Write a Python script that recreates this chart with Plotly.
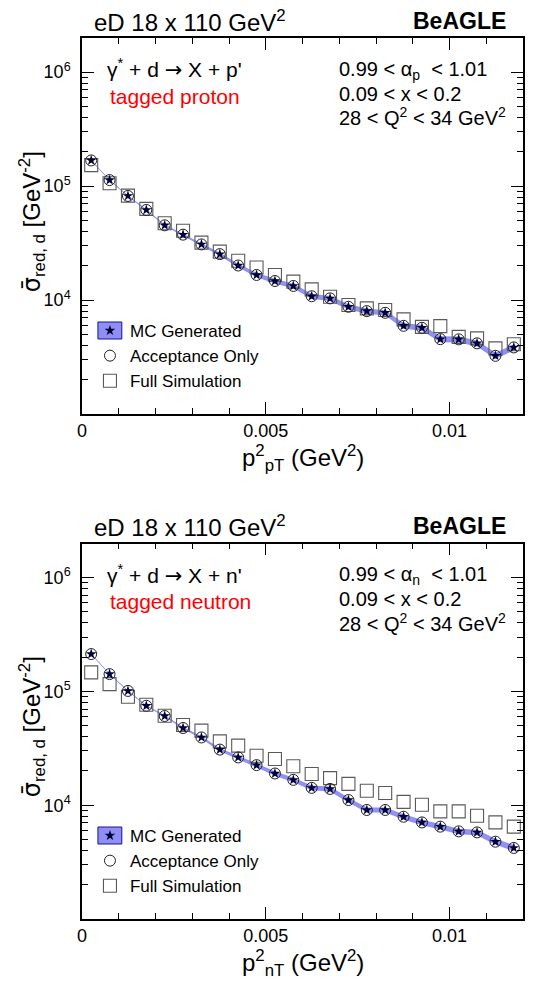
import plotly.graph_objects as go

# ---------------- data ----------------
pt2_bins = [0.00025, 0.00075, 0.00125, 0.00175, 0.00225, 0.00275, 0.00325, 0.00375,
            0.00425, 0.00475, 0.00525, 0.00575, 0.00625, 0.00675, 0.00725, 0.00775,
            0.00825, 0.00875, 0.00925, 0.00975, 0.01025, 0.01075, 0.01125, 0.01175]

proton_mc = [1.68e5, 1.13e5, 8.2e4, 6.18e4, 4.53e4, 3.75e4, 3.08e4, 2.53e4,
             2.01e4, 1.66e4, 1.47e4, 1.33e4, 1.08e4, 1.035e4, 8.73e3, 8.0e3,
             7.73e3, 5.94e3, 5.71e3, 4.54e3, 4.52e3, 4.17e3, 3.24e3, 3.84e3]
proton_mc_relerr = [0.004, 0.006, 0.009, 0.012, 0.016, 0.020, 0.025, 0.030,
                    0.035, 0.045, 0.047, 0.048, 0.050, 0.050, 0.052, 0.054,
                    0.055, 0.057, 0.058, 0.060, 0.060, 0.061, 0.064, 0.062]
proton_acc = [1.68e5, 1.13e5, 8.2e4, 6.18e4, 4.53e4, 3.75e4, 3.08e4, 2.53e4,
              2.01e4, 1.66e4, 1.47e4, 1.33e4, 1.08e4, 1.035e4, 8.73e3, 8.0e3,
              7.73e3, 5.94e3, 5.71e3, 4.54e3, 4.52e3, 4.17e3, 3.24e3, 3.84e3]
proton_full = [1.53e5, 1.06e5, 8.26e4, 6.31e4, 4.72e4, 4.06e4, 3.19e4, 2.66e4,
               2.21e4, 1.93e4, 1.66e4, 1.45e4, 1.24e4, 1.07e4, 9.04e3, 8.45e3,
               8.17e3, 6.77e3, 5.82e3, 5.91e3, 4.75e3, 4.61e3, 3.77e3, 4.10e3]

neutron_mc = [2.13e5, 1.42e5, 1.01e5, 7.48e4, 6.08e4, 4.77e4, 3.94e4, 3.08e4,
              2.63e4, 2.25e4, 1.90e4, 1.67e4, 1.42e4, 1.39e4, 1.11e4, 9.08e3,
              9.08e3, 7.92e3, 7.06e3, 6.48e3, 5.89e3, 5.77e3, 4.78e3, 4.21e3]
neutron_mc_relerr = [0.003, 0.005, 0.008, 0.011, 0.015, 0.019, 0.024, 0.030,
                     0.035, 0.040, 0.044, 0.046, 0.048, 0.049, 0.050, 0.052,
                     0.052, 0.054, 0.055, 0.056, 0.057, 0.057, 0.060, 0.062]
neutron_acc = [2.13e5, 1.42e5, 1.01e5, 7.48e4, 6.08e4, 4.77e4, 3.94e4, 3.08e4,
               2.63e4, 2.25e4, 1.90e4, 1.67e4, 1.42e4, 1.39e4, 1.11e4, 9.08e3,
               9.08e3, 7.92e3, 7.06e3, 6.48e3, 5.89e3, 5.77e3, 4.78e3, 4.21e3]
neutron_full = [1.47e5, 1.16e5, 8.98e4, 7.64e4, 6.11e4, 5.07e4, 4.52e4, 3.64e4,
                3.34e4, 2.72e4, 2.55e4, 2.20e4, 1.88e4, 1.73e4, 1.54e4, 1.34e4,
                1.28e4, 1.07e4, 1.01e4, 8.83e3, 8.83e3, 8.09e3, 7.06e3, 6.48e3]

x_tick_vals = [0, 0.005, 0.01]
x_tick_text = ["0", "0.005", "0.01"]
y_tick_vals = [1e4, 1e5, 1e6]
y_tick_text = ["10<sup>4</sup>", "10<sup>5</sup>", "10<sup>6</sup>"]
y_minor_vals = [m * 10 ** e for e in (3, 4, 5) for m in range(2, 10)] + [2e6]

series_names = ["MC Generated", "Acceptance Only", "Full Simulation"]

panels = [
    dict(mc=proton_mc, err=proton_mc_relerr, acc=proton_acc, full=proton_full,
         particle="p", tag="tagged proton", dy=0),
    dict(mc=neutron_mc, err=neutron_mc_relerr, acc=neutron_acc, full=neutron_full,
         particle="n", tag="tagged neutron", dy=505),
]

# ---------------- layout geometry ----------------
W, H = 534, 989
ML, MR, MT, MB = 82, 9, 38, 70
PW = W - ML - MR
PH = H - MT - MB
FONT = "Liberation Sans, Arial, Helvetica, sans-serif"
ARROW = '<span style="font-family:DejaVu Sans">\u2192</span>'
SIGMA_BAR = '<span style="font-family:DejaVu Sans">\u03c3\u0304</span>'


def px(X):
    return (X - ML) / PW


def py(Y):
    return (H - MB - Y) / PH


BAND_FILL = "rgba(122,122,242,0.85)"
BAND_LINE = "rgb(150,150,250)"
BOX_EDGE = "rgb(20,20,150)"

fig = go.Figure()
annotations = []
shapes = []

for i, p in enumerate(panels):
    sfx = "" if i == 0 else str(i + 1)
    xa, ya = "x" + sfx, "y" + sfx
    leg = "legend" + sfx
    lo = [v * (1 - e) for v, e in zip(p["mc"], p["err"])]
    hi = [v * (1 + e) for v, e in zip(p["mc"], p["err"])]
    fig.add_trace(go.Scatter(x=pt2_bins, y=lo, mode="lines", line=dict(width=0, color=BAND_FILL),
                             showlegend=False, hoverinfo="skip", legend=leg, xaxis=xa, yaxis=ya))
    fig.add_trace(go.Scatter(x=pt2_bins, y=hi, mode="lines", line=dict(width=0, color=BAND_FILL),
                             fill="tonexty", fillcolor=BAND_FILL, legend=leg,
                             showlegend=False, hoverinfo="skip", xaxis=xa, yaxis=ya))
    fig.add_trace(go.Scatter(x=pt2_bins, y=p["mc"], mode="lines", line=dict(width=1, color=BAND_LINE),
                             showlegend=False, hoverinfo="skip", legend=leg, xaxis=xa, yaxis=ya))
    fig.add_trace(go.Scatter(x=pt2_bins, y=p["full"], mode="markers", name=series_names[2],
                             marker=dict(symbol="square-open", size=13, color="#5a5a5a",
                                         line=dict(width=1.1, color="#5a5a5a")),
                             legend=leg, legendrank=3, xaxis=xa, yaxis=ya))
    fig.add_trace(go.Scatter(x=pt2_bins, y=p["acc"], mode="markers", name=series_names[1],
                             marker=dict(symbol="circle-open", size=11, color="#222222",
                                         line=dict(width=1, color="#222222")),
                             legend=leg, legendrank=2, xaxis=xa, yaxis=ya))
    fig.add_trace(go.Scatter(x=pt2_bins, y=p["mc"], mode="markers", name=series_names[0],
                             marker=dict(symbol="star", size=8, color="#000035",
                                         line=dict(width=0)),
                             legend=leg, legendrank=1, xaxis=xa, yaxis=ya))

    dy = p["dy"]

    def ann(text, X, Y, size, xanchor="left", color="black", angle=0):
        annotations.append(dict(text=text, x=px(X), y=py(Y + dy), xref="paper", yref="paper",
                                xanchor=xanchor, yanchor="middle", showarrow=False,
                                textangle=angle,
                                font=dict(family=FONT, size=size, color=color)))

    ann("eD 18 x 110 GeV<sup>2</sup>", 92, 21, 24)
    ann("<b>BeAGLE</b>", 510, 21, 23, xanchor="right")
    ann("γ<sup>*</sup> + d %s X + %s'" % (ARROW, p["particle"]), 105, 69, 21)
    ann(p["tag"], 108, 96, 21, color="#ff0000")
    ann("0.99 &lt; α<sub>%s</sub>\u00a0 &lt; 1.01" % p["particle"], 338, 70, 20)
    ann("0.09 &lt; x &lt; 0.2", 338, 94, 20)
    ann("28 &lt; Q<sup>2</sup> &lt; 34 GeV<sup>2</sup>", 338, 117, 20)
    ann("%s<sub>red, d</sub> [GeV<sup>-2</sup>]" % SIGMA_BAR, 32, 222, 24, xanchor="center", angle=-90)
    ann("p<sup>2</sup><sub>%sT</sub> (GeV<sup>2</sup>)" % p["particle"], 304, 458, 24, xanchor="center")

    shapes.append(dict(type="rect", xref="paper", yref="paper",
                       x0=px(98), x1=px(122), y0=py(339 + dy), y1=py(322 + dy),
                       fillcolor=BAND_FILL, line=dict(color=BOX_EDGE, width=1), layer="above"))

axis_common = dict(showline=True, linecolor="black", linewidth=1.5, mirror="allticks",
                   ticks="inside", tickcolor="black", tickwidth=1, ticklen=12,
                   showgrid=False, zeroline=False,
                   tickfont=dict(family=FONT, size=18, color="black"))

x_common = dict(axis_common, range=[0, 0.012], tickmode="array", tickvals=x_tick_vals,
                ticktext=x_tick_text,
                minor=dict(ticks="inside", ticklen=6, tickcolor="black", tickwidth=1,
                           tick0=0, dtick=0.001, showgrid=False))
y_common = dict(axis_common, type="log", range=[3, 6.3], tickmode="array",
                tickvals=y_tick_vals, ticktext=y_tick_text, ticklabelstandoff=6,
                minor=dict(ticks="inside", ticklen=6, tickcolor="black", tickwidth=1,
                           tickmode="array", tickvals=y_minor_vals, showgrid=False))

legend_common = dict(xanchor="left", yanchor="top", bgcolor="rgba(0,0,0,0)",
                     font=dict(family=FONT, size=17, color="black"), itemwidth=30,
                     tracegroupgap=0, borderwidth=0, traceorder="normal")

fig.update_layout(
    width=W, height=H,
    margin=dict(l=ML, r=MR, t=MT, b=MB),
    paper_bgcolor="white", plot_bgcolor="white",
    xaxis=dict(x_common, anchor="y", domain=[0, 1]),
    yaxis=dict(y_common, anchor="x", domain=[py(414), 1]),
    xaxis2=dict(x_common, anchor="y2", domain=[0, 1]),
    yaxis2=dict(y_common, anchor="x2", domain=[0, py(543.5)]),
    legend=dict(legend_common, x=px(90), y=py(313)),
    legend2=dict(legend_common, x=px(90), y=py(313 + 505)),
    annotations=annotations,
    shapes=shapes,
    showlegend=True,
)

fig.write_html("out.html")
